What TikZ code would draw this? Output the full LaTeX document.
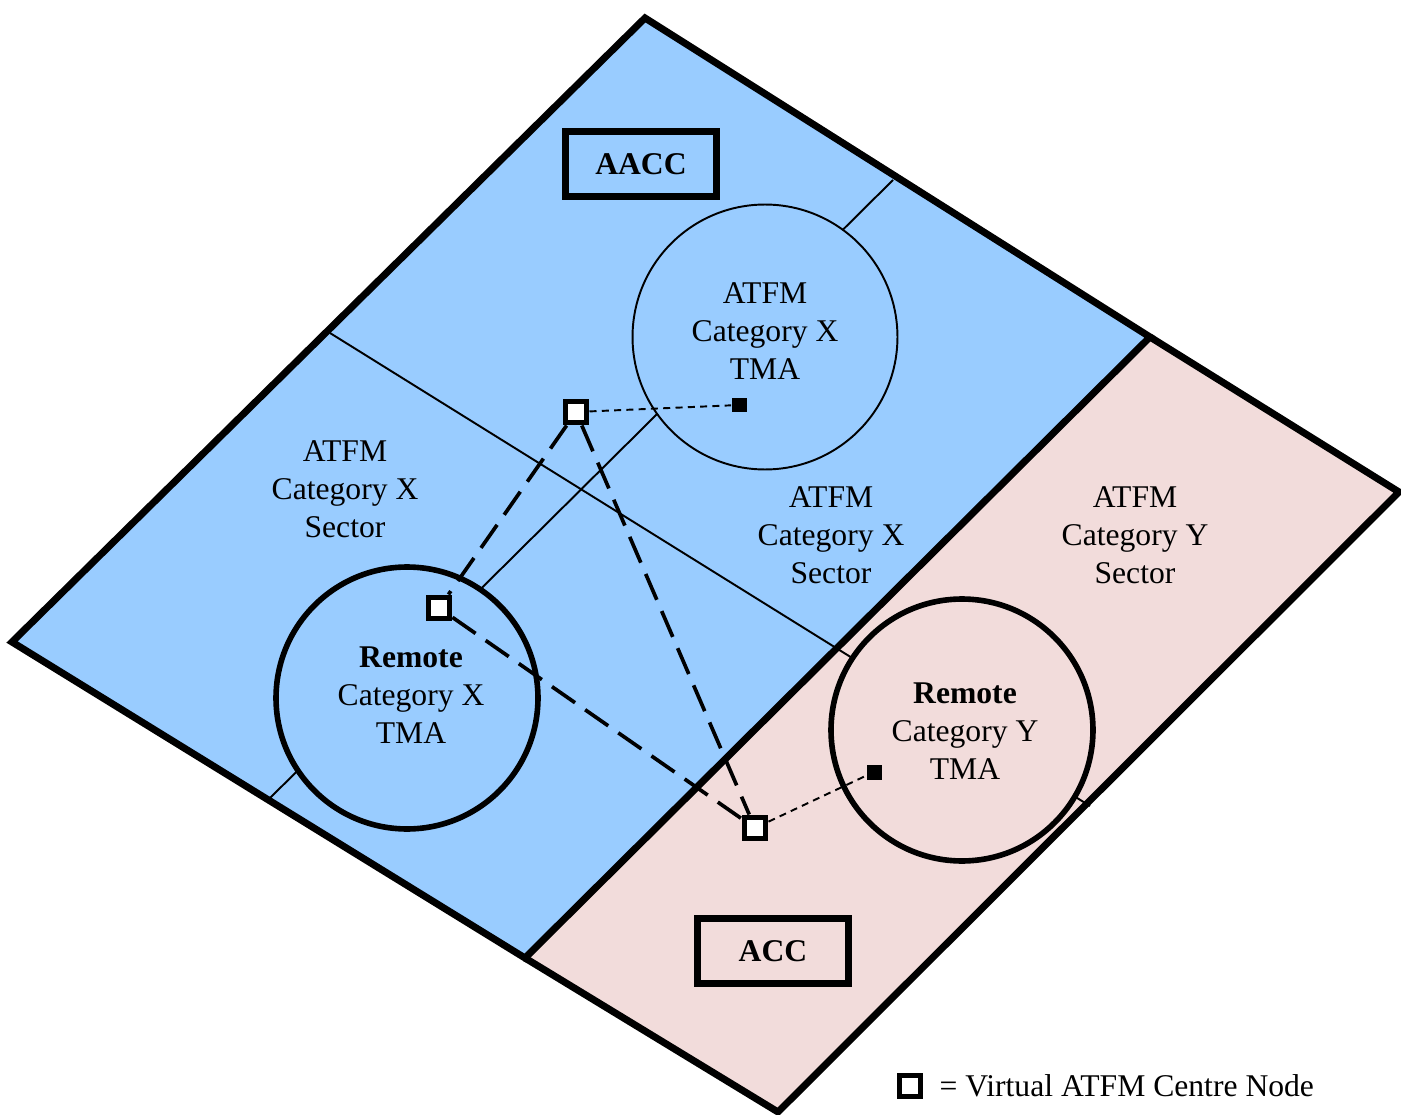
\documentclass[tikz,border=0pt]{standalone}
\usepackage{fontspec}
\setmainfont{Liberation Serif}
\usetikzlibrary{positioning}
\definecolor{skyblue}{RGB}{153,204,255}
\definecolor{palepink}{RGB}{242,220,219}

\begin{document}
\begin{tikzpicture}[x=0.02cm, y=-0.02cm,
  every node/.append style={font=\fontsize{18}{21.6}\selectfont, align=center},
  border/.style={line width=4pt, line join=miter},
  divider/.style={line width=1.1pt},
  tma/.style={circle, draw, line width=3.2pt, minimum size=5.24cm, inner sep=0pt},
  centre/.style={draw, line width=3.4pt, fill=white, minimum size=0.42cm, inner sep=0pt},
  site/.style={fill, minimum size=0.3cm, inner sep=0pt},
  link/.style={line width=2.1pt, dash pattern=on 16pt off 7pt},
  feed/.style={line width=1.1pt, dash pattern=on 4pt off 3pt},
  unit/.style={draw, line width=3.6pt, minimum width=3.02cm, minimum height=1.3cm}]
  \useasboundingbox (0,0) rectangle (1401,1115);
  \coordinate (N) at (645,18);
  \coordinate (E) at (1150,337);
  \coordinate (S) at (525,958);
  \coordinate (W) at (12,642);
  \coordinate (E2) at (1399,492);
  \coordinate (S2) at (778,1112);
  \fill[skyblue] (N) -- (E) -- (S) -- (W) -- cycle;
  \fill[palepink] (E) -- (E2) -- (S2) -- (S) -- cycle;
  \draw[divider] (893,180) -- (268,800);
  \draw[divider] (330,333) -- (1090,806);
  \node[tma, fill=skyblue, line width=1.1pt, minimum size=5.3cm] (tmaTop) at (765,337) {};
  \node[tma, fill=skyblue] (tmaLeft) at (407,698) {};
  \node[tma, fill=palepink] (tmaRight) at (962,730) {};
  \node (tmaTopText) at (765,331) {ATFM\\Category X\\TMA};
  \node (tmaLeftText) at (411,695) {\textbf{Remote}\\Category X\\TMA};
  \node (tmaRightText) at (965,731) {\textbf{Remote}\\Category Y\\TMA};
  \draw[border] (N) -- (E) -- (S) -- (W) -- cycle;
  \draw[border] (E) -- (E2) -- (S2) -- (S);
  \node[unit] (aacc) at (641,164) {\textbf{AACC}};
  \node[unit] (acc) at (773,951) {\textbf{ACC}};
  \node (secWest) at (345,489) {ATFM\\Category X\\Sector};
  \node (secMid) at (831,535) {ATFM\\Category X\\Sector};
  \node (secEast) at (1135,535) {ATFM\\Category Y\\Sector};
  % virtual centres and the sites they serve
  \node[centre] (vcA) at (576,412) {};
  \node[centre] (vcB) at (439,608) {};
  \node[centre] (vcC) at (755,828) {};
  \node[site] (siteTop) at (739,405) {};
  \node[site] (siteRight) at (874,772) {};
  \draw[link] (vcA) -- (vcB);
  \draw[link] (vcA) -- (vcC);
  \draw[link] (vcB) -- (vcC);
  \draw[feed] (vcA) -- (siteTop);
  \draw[feed] (vcC) -- (siteRight);
  % key
  \node[centre] (keyBox) at (910,1086) {};
  \node[right=0.2cm of keyBox] (keyText) {= Virtual ATFM Centre Node};
\end{tikzpicture}
\end{document}
